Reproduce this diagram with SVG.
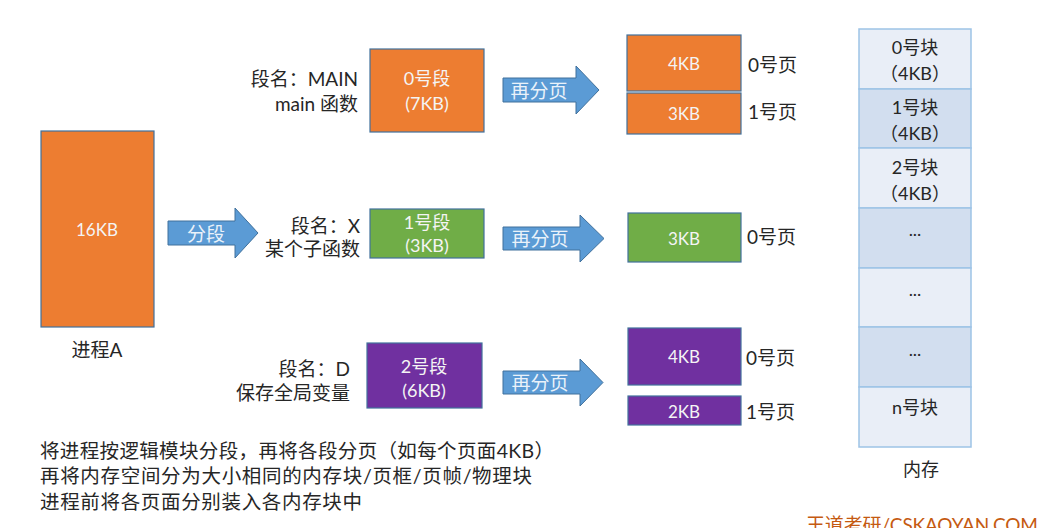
<svg xmlns="http://www.w3.org/2000/svg" width="1059" height="528" viewBox="0 0 1059 528">
<style>
text{font-family:Lato,"Noto Sans CJK SC",sans-serif;}
.in{fill:#F4F4F4;font-size:18px;text-anchor:middle;dominant-baseline:central;}
.sm{font-size:17px;}
.lbl{fill:#262626;font-size:19px;dominant-baseline:central;}
.r{text-anchor:end;}
.box{stroke:#41719C;stroke-width:1.2;}
.or{fill:#ED7D31;}
.gr{fill:#70AD47;}
.pu{fill:#7030A0;}
.arrow{fill:#5B9BD5;stroke:#41719C;stroke-width:1;}
.at{fill:#EAF2FA;font-size:19px;text-anchor:middle;dominant-baseline:central;}
.mem{stroke:#9DC3E6;stroke-width:1.5;}
.m1{fill:#E9EEF7;}
.m2{fill:#D2DEEF;}
.mt{fill:#262626;font-size:18px;text-anchor:middle;dominant-baseline:central;}
.note{fill:#262626;font-size:19.5px;}
</style>
<rect width="1059" height="528" fill="#FFFFFF"/>

<g id="connectors">
<path class="arrow" d="M168,221 H235 V208 L258,233 L235,258 V245 H168 Z"/>
<text class="at" x="206" y="233">分段</text>
<path class="arrow" d="M503,78 H576 V66 L599,90 L576,114 V102 H503 Z"/>
<text class="at" x="539" y="90">再分页</text>
<path class="arrow" d="M503,227 H580 V215 L604,238.5 L580,262 V250 H503 Z"/>
<text class="at" x="540" y="238">再分页</text>
<path class="arrow" d="M503,371 H580 V359 L603,382.5 L580,406 V394 H503 Z"/>
<text class="at" x="540" y="382">再分页</text>
</g>

<g id="process">
<rect class="box or" x="41" y="131" width="113" height="196"/>
<text class="in sm" x="97" y="229">16KB</text>
<text class="lbl" x="97" y="349" text-anchor="middle">进程A</text>
</g>

<g id="seg0">
<text class="lbl r" x="358" y="78">段名：MAIN</text>
<text class="lbl r" x="358" y="103">main 函数</text>
<rect class="box or" x="370" y="49" width="114" height="83"/>
<text class="in" x="427" y="78">0号段</text>
<text class="in" x="427" y="103">(7KB)</text>
</g>

<g id="seg1">
<text class="lbl r" x="360" y="225">段名：X</text>
<text class="lbl r" x="360" y="248">某个子函数</text>
<rect class="box gr" x="370" y="209" width="114" height="49"/>
<text class="in" x="427" y="222">1号段</text>
<text class="in" x="427" y="245">(3KB)</text>
</g>

<g id="seg2">
<text class="lbl r" x="350" y="368">段名：D</text>
<text class="lbl r" x="350" y="392">保存全局变量</text>
<rect class="box pu" x="367" y="343" width="115" height="65"/>
<text class="in" x="424" y="366">2号段</text>
<text class="in" x="424" y="390">(6KB)</text>
</g>

<g id="pages0">
<rect class="box or" x="627" y="35" width="114" height="56"/>
<text class="in sm" x="684" y="63">4KB</text>
<rect class="box or" x="627" y="93" width="114" height="41"/>
<text class="in sm" x="684" y="113">3KB</text>
<text class="lbl" x="748" y="64">0号页</text>
<text class="lbl" x="748" y="111">1号页</text>
</g>

<g id="pages1">
<rect class="box gr" x="628" y="213" width="113" height="49"/>
<text class="in sm" x="684" y="238">3KB</text>
<text class="lbl" x="747" y="236">0号页</text>
</g>

<g id="pages2">
<rect class="box pu" x="628" y="328" width="113" height="57"/>
<text class="in sm" x="684" y="356">4KB</text>
<rect class="box pu" x="628" y="396" width="113" height="29"/>
<text class="in sm" x="684" y="411">2KB</text>
<text class="lbl" x="746" y="357">0号页</text>
<text class="lbl" x="746" y="411">1号页</text>
</g>

<g id="memory">
<rect class="mem m1" x="859" y="29" width="112" height="60"/>
<rect class="mem m2" x="859" y="89" width="112" height="59"/>
<rect class="mem m1" x="859" y="148" width="112" height="60"/>
<rect class="mem m2" x="859" y="208" width="112" height="60"/>
<rect class="mem m1" x="859" y="268" width="112" height="59"/>
<rect class="mem m2" x="859" y="327" width="112" height="60"/>
<rect class="mem m1" x="859" y="387" width="112" height="60"/>
<text class="mt" x="915" y="47">0号块</text>
<text class="mt" x="915" y="73">（4KB）</text>
<text class="mt" x="915" y="107">1号块</text>
<text class="mt" x="915" y="133">（4KB）</text>
<text class="mt" x="915" y="167">2号块</text>
<text class="mt" x="915" y="193">（4KB）</text>
<text class="mt" x="915" y="229">...</text>
<text class="mt" x="915" y="289">...</text>
<text class="mt" x="915" y="349">...</text>
<text class="mt" x="915" y="407">n号块</text>
<text class="mt" x="921" y="469" font-size="19">内存</text>
</g>

<g id="notes">
<text class="note" x="40" y="458" textLength="514" lengthAdjust="spacing">将进程按逻辑模块分段，再将各段分页（如每个页面4KB）</text>
<text class="note" x="40" y="483" textLength="492" lengthAdjust="spacing">再将内存空间分为大小相同的内存块/页框/页帧/物理块</text>
<text class="note" x="40" y="509" textLength="322" lengthAdjust="spacing">进程前将各页面分别装入各内存块中</text>
</g>

<g id="watermark">
<text x="806" y="532" fill="#C55A11" font-size="19" font-family="Lato,'Noto Sans CJK SC',sans-serif" textLength="232" lengthAdjust="spacing">王道考研/CSKAOYAN.COM</text>
</g>
</svg>
